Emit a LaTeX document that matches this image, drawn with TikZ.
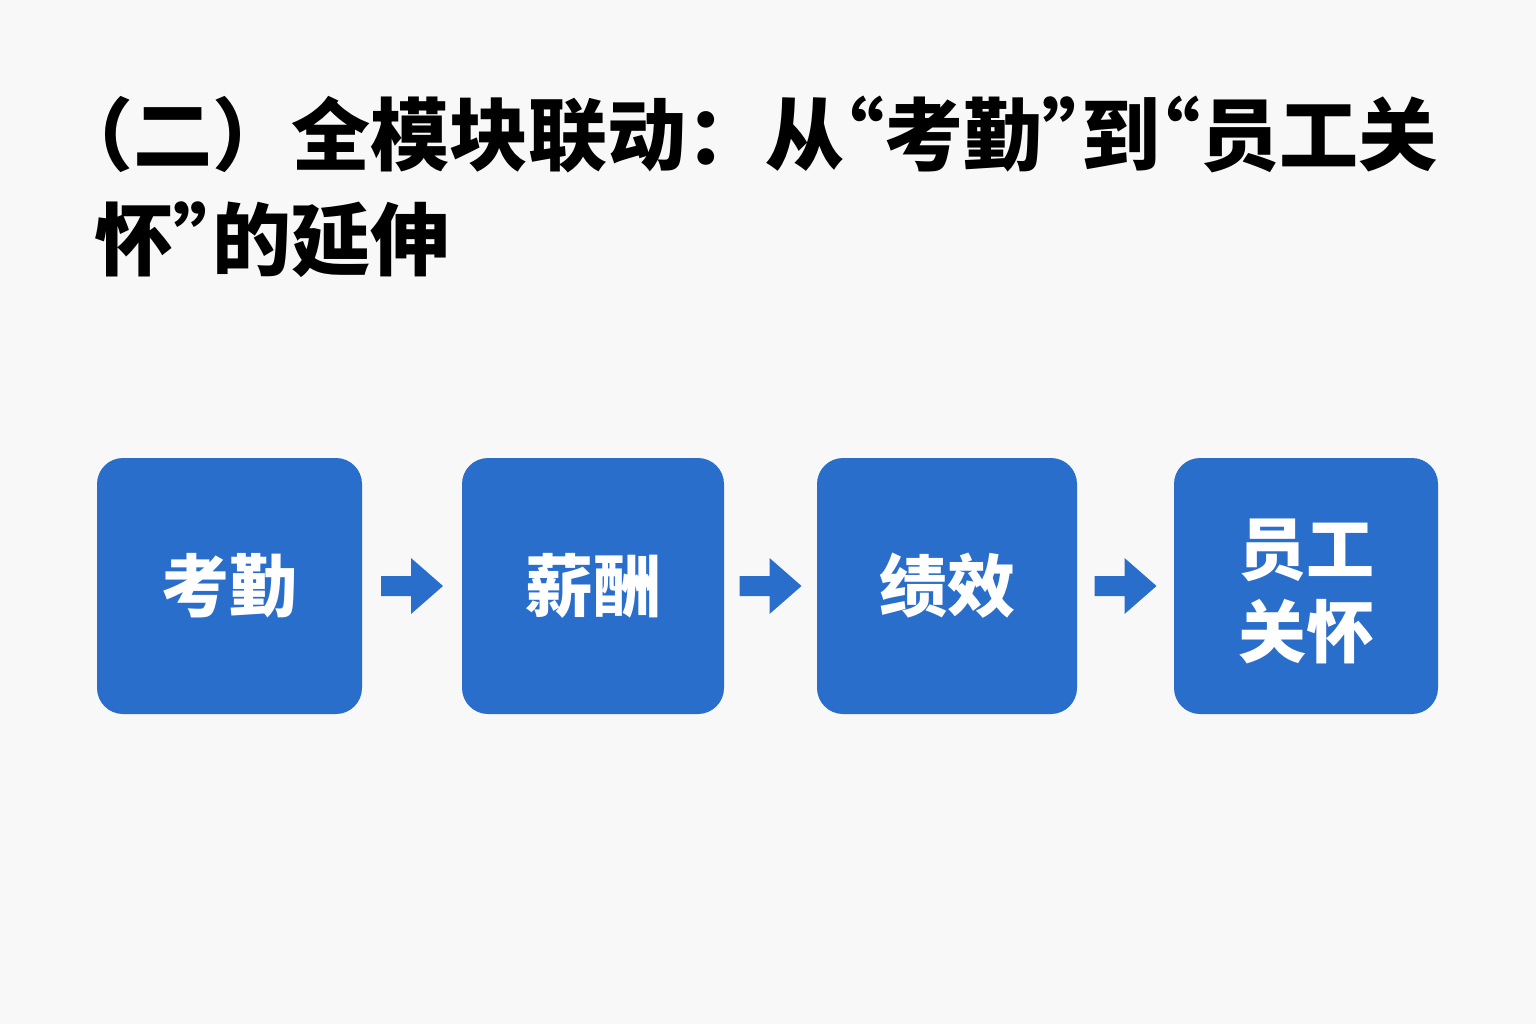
\documentclass[tikz,border=0pt]{standalone}
\usepackage{fontspec}
\newfontfamily\cjk{Noto Sans CJK SC}
\newfontfamily\cjkhalf{Noto Sans CJK SC}[RawFeature=+halt]
\newcommand\hq[1]{{\cjkhalf\bfseries #1}}
\usetikzlibrary{calc}
\definecolor{bg}{HTML}{F8F8F8}
\definecolor{boxblue}{HTML}{2A6ECC}
\tikzset{
  x=1pt,y=-1pt,
  stage/.style={fill=boxblue,rounded corners=26pt,minimum width=265pt,minimum height=256pt,inner sep=0pt,
    text=white,font=\cjk\bfseries\fontsize{68pt}{72pt}\selectfont,align=center},
  flowarrow/.style={fill=boxblue},
  titletext/.style={anchor=north west,inner sep=0pt,align=left,font=\cjk\bfseries\fontsize{79pt}{105pt}\selectfont,text=black}
}
\begin{document}
\begin{tikzpicture}
\fill[bg] (0,0) rectangle (1536,1024);
\useasboundingbox (0,0) rectangle (1536,1024);
\node[titletext] (title) at (94,96) {\hq{（}二）全模块联动：从\hq{“}考勤\hq{”}到\hq{“}员工关\\怀\hq{”}的延伸};
\node[stage] (s1) at (229.5,586) {考勤};
\node[stage,minimum width=262pt] (s2) at (593,586) {薪酬};
\node[stage,minimum width=260pt] (s3) at (947,586) {绩效};
\node[stage,minimum width=264pt,font=\cjk\bfseries\fontsize{68pt}{83pt}\selectfont] (s4) at (1306,586) {\raisebox{-13pt}[\height][\depth]{\begin{tabular}{@{}c@{}}员工\\关怀\end{tabular}}};
\foreach \a/\b in {s1/s2,s2/s3,s3/s4}{
  \coordinate (m) at ($(\a.east)!0.5!(\b.west)$);
  \fill[flowarrow] ($(m)+(-31,-10)$) -- ($(m)+(-1,-10)$) -- ($(m)+(-1,-28)$) -- ($(m)+(31,0)$)
     -- ($(m)+(-1,28)$) -- ($(m)+(-1,10)$) -- ($(m)+(-31,10)$) -- cycle;
}
\end{tikzpicture}
\end{document}
